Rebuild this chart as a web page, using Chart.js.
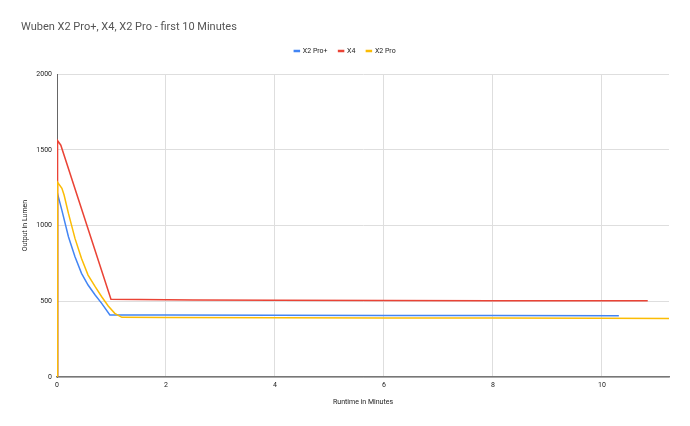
<!DOCTYPE html>
<html>
<head>
<meta charset="utf-8">
<title>Wuben X2 Pro+, X4, X2 Pro - first 10 Minutes</title>
<script src="https://cdn.jsdelivr.net/npm/chart.js@4.4.1/dist/chart.umd.min.js"></script>
<style>
  html, body { margin: 0; padding: 0; background: #fff; }
  canvas { display: block; }
</style>
</head>
<body>
<canvas id="runtimeChart" width="690" height="426"></canvas>
<script>
// runtime in minutes / output in lumen
const seriesNames = ['X2 Pro+', 'X4', 'X2 Pro'];
const seriesColors = ['#4285f4', '#ea4335', '#fbbc04'];

const proPlusMin = [0, 0.01, 0.09, 0.21, 0.33, 0.45, 0.57, 0.70, 0.82, 0.97, 2, 4, 6, 8, 10.31];
const proPlusLm  = [0, 1210, 1100, 926, 794, 684, 607, 541, 486, 410, 409, 408, 406, 406, 405];

const x4Min = [0, 0.01, 0.07, 0.99, 1.5, 2.5, 4, 6, 8, 10.84];
const x4Lm  = [0, 1560, 1530, 513, 511, 508, 506, 505, 504, 503];

const proMin = [0, 0.01, 0.09, 0.13, 0.21, 0.33, 0.45, 0.57, 0.70, 0.82, 0.94, 1.06, 1.19, 2, 4, 6, 8, 10, 11.23];
const proLm  = [0, 1285, 1245, 1201, 1080, 915, 782, 673, 596, 530, 469, 420, 394, 392, 391, 390, 390, 388, 386];

const xMax = 11.23;
const xStep = 2;
const yTicks = [0, 500, 1000, 1500, 2000];

const toPoints = (xs, ys) => xs.map((x, i) => ({ x, y: ys[i] }));

const inkColor = '#222';
const gridColor = '#dedede';
const tickFont = { family: 'Roboto', size: 7 };

// google sheets puts the title flush left and the legend a bit higher than chart.js would
const nudge = {
  id: 'nudge',
  afterLayout(chart) {
    chart.titleBlock.left = 21;
    chart.legend.top -= 9.5;
    chart.legend.bottom -= 9.5;
    chart.legend.left += 10.5;
    chart.legend.right += 10.5;
  }
};

// later series sit on top, like in sheets
const makeSet = (i, pts) => ({
  label: seriesNames[i],
  data: pts,
  order: seriesNames.length - 1 - i,
  borderColor: seriesColors[i],
  backgroundColor: seriesColors[i],
  borderWidth: 1.5,
  pointRadius: 0,
  tension: 0
});

new Chart(document.getElementById('runtimeChart'), {
  type: 'line',
  data: {
    datasets: [
      makeSet(0, toPoints(proPlusMin, proPlusLm)),
      makeSet(1, toPoints(x4Min, x4Lm)),
      makeSet(2, toPoints(proMin, proLm))
    ]
  },
  options: {
    responsive: false,
    animation: false,
    layout: { padding: { left: 0, right: 21, top: 0, bottom: 0 } },
    plugins: {
      title: {
        display: true,
        text: 'Wuben X2 Pro+, X4, X2 Pro - first 10 Minutes',
        align: 'start',
        color: '#555',
        font: { family: 'Roboto', size: 11, weight: 'normal' },
        padding: { top: 20.4, bottom: 12.4 }
      },
      legend: {
        position: 'top',
        labels: {
          color: inkColor, font: tickFont, boxWidth: 5, boxHeight: 1, padding: 11,
          sort: (a, b) => a.datasetIndex - b.datasetIndex
        }
      },
      tooltip: { enabled: false }
    },
    scales: {
      x: {
        type: 'linear',
        min: 0,
        max: xMax,
        afterFit: s => { s.height = 49; },
        ticks: { stepSize: xStep, includeBounds: false, color: inkColor, font: tickFont, padding: 4 },
        grid: { color: gridColor, drawTicks: false, z: -1 },
        border: { color: '#777', width: 1.5 },
        title: { display: true, text: 'Runtime in Minutes', color: inkColor, font: tickFont, padding: { top: 0, bottom: 19.5 } }
      },
      y: {
        min: yTicks[0],
        max: yTicks[yTicks.length - 1],
        afterFit: s => { s.width = 57; },
        afterBuildTicks: s => { s.ticks = yTicks.map(v => ({ value: v })); },
        ticks: { color: inkColor, font: tickFont, padding: 5, callback: v => String(v) },
        grid: { color: gridColor, drawTicks: false, z: -1 },
        border: { color: '#666', width: 1 },
        title: { display: true, text: 'Output in Lumen', color: inkColor, font: tickFont, padding: { top: 21, bottom: 0 } }
      }
    }
  },
  plugins: [nudge]
});
</script>
</body>
</html>
